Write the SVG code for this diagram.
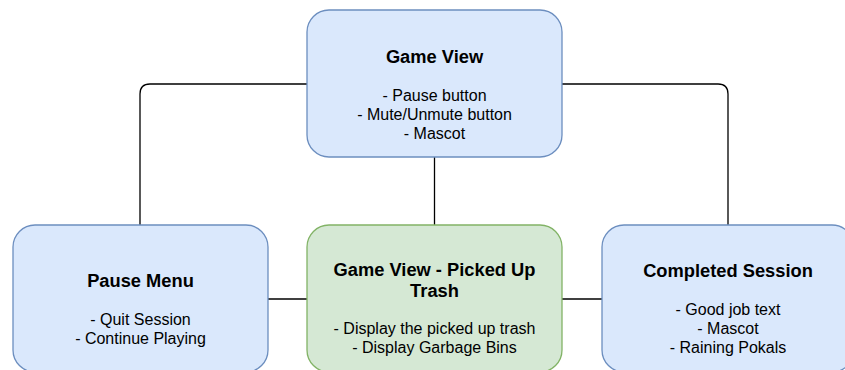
<svg xmlns="http://www.w3.org/2000/svg" width="845" height="370" viewBox="0 0 845 370">
<style>
.blue{fill:#dae8fc;stroke:#6c8ebf;stroke-width:1.3}
.green{fill:#d5e8d4;stroke:#82b366;stroke-width:1.3}
.edge{fill:none;stroke:#000;stroke-width:1.3}
text{font-family:"Liberation Sans",Arial,Helvetica,sans-serif;fill:#000;text-anchor:middle}
.t{font-size:18.3px;font-weight:bold}
.b{font-size:16px}
</style>
<rect width="845" height="370" fill="#fff"/>
<g id="connectors">
<path class="edge" d="M307 84 H150 Q140 84 140 94 V225"/>
<path class="edge" d="M562 84 H718 Q728 84 728 94 V225"/>
<path class="edge" d="M434.5 157 V225"/>
<path class="edge" d="M268 299 H307"/>
<path class="edge" d="M562 299 H602"/>
</g>
<g id="game-view">
<rect class="blue" x="307" y="10" width="255" height="147" rx="22"/>
<text class="t" x="434.5" y="63">Game View</text>
<text class="b" x="434.5" y="101">- Pause button</text>
<text class="b" x="434.5" y="120">- Mute/Unmute button</text>
<text class="b" x="434.5" y="139">- Mascot</text>
</g>
<g id="pause-menu">
<rect class="blue" x="13" y="225" width="255" height="147" rx="22"/>
<text class="t" x="140.5" y="287">Pause Menu</text>
<text class="b" x="140.5" y="325">- Quit Session</text>
<text class="b" x="140.5" y="344">- Continue Playing</text>
</g>
<g id="picked-up-trash">
<rect class="green" x="307" y="225" width="255" height="147" rx="22"/>
<text class="t" x="434.5" y="276">Game View - Picked Up</text>
<text class="t" x="434.5" y="297">Trash</text>
<text class="b" x="434.5" y="334">- Display the picked up trash</text>
<text class="b" x="434.5" y="353">- Display Garbage Bins</text>
</g>
<g id="completed-session">
<rect class="blue" x="602" y="225" width="252" height="147" rx="22"/>
<text class="t" x="728" y="277">Completed Session</text>
<text class="b" x="728" y="315">- Good job text</text>
<text class="b" x="728" y="334">- Mascot</text>
<text class="b" x="728" y="353">- Raining Pokals</text>
</g>
</svg>
